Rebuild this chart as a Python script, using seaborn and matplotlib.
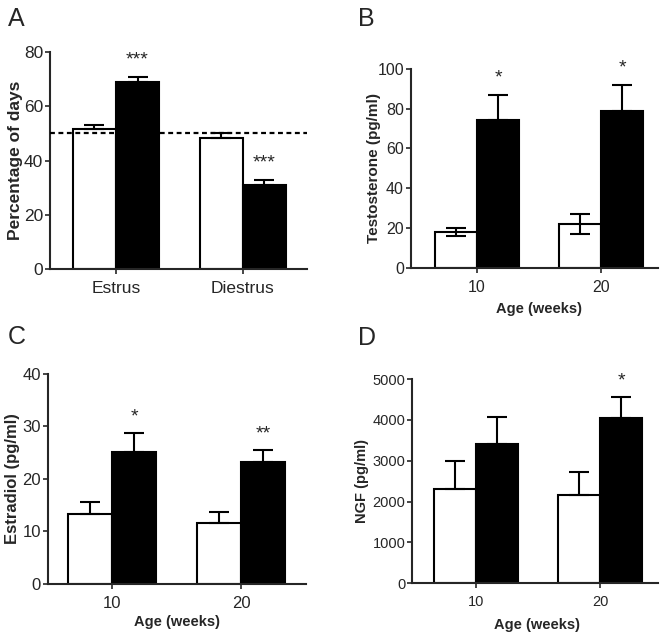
import numpy as np
import pandas as pd
import matplotlib.pyplot as plt
import seaborn as sns

# ---- data ----
groups = ['Control', 'Treated']

a_cats = ['Estrus', 'Diestrus']
a_ctrl = [51.5, 48.5]
a_ctrl_err = [1.5, 1.5]
a_trt = [69.0, 31.0]
a_trt_err = [2.0, 2.0]
a_stars = ['***', '***']

b_cats = ['10', '20']
b_ctrl = [18.0, 22.0]
b_ctrl_err = [2.2, 5.0]
b_trt = [74.0, 78.5]
b_trt_err = [13.0, 13.5]
b_stars = ['*', '*']

c_cats = ['10', '20']
c_ctrl = [13.4, 11.6]
c_ctrl_err = [2.2, 2.1]
c_trt = [25.1, 23.2]
c_trt_err = [3.6, 2.3]
c_stars = ['*', '**']

d_cats = ['10', '20']
d_ctrl = [2300, 2150]
d_ctrl_err = [700, 570]
d_trt = [3420, 4040]
d_trt_err = [650, 510]
d_stars = ['', '*']

sns.set_style('ticks')
plt.rcParams['font.family'] = ['Liberation Sans', 'DejaVu Sans']
NARROW = ['Liberation Sans Narrow', 'Liberation Sans', 'DejaVu Sans']


def make_df(cats, ctrl, ctrl_err, trt, trt_err, stars):
    rows = []
    for i, c in enumerate(cats):
        rows.append({'cat': c, 'group': groups[0], 'mean': ctrl[i], 'err': ctrl_err[i], 'star': ''})
        rows.append({'cat': c, 'group': groups[1], 'mean': trt[i], 'err': trt_err[i], 'star': stars[i]})
    return pd.DataFrame(rows)


def panel(ax, df, ymax, ystep, xlim, ylabel, ylab_x, xlabel=None, xlab_xy=None,
          tick_fs=12, lab_fs=12, two_sided_ctrl=False, star_fs=14):
    sns.barplot(data=df, x='cat', y='mean', hue='group', hue_order=groups,
                palette=['white', 'black'], edgecolor='black', linewidth=1.5,
                width=0.68, errorbar=None, legend=False, saturation=1, ax=ax, zorder=2)
    bars = sorted([p for p in ax.patches if p.get_height() > 0], key=lambda p: p.get_x())
    for p, (_, row) in zip(bars, df.iterrows()):
        x = p.get_x() + p.get_width() / 2
        lo = row['err'] if (two_sided_ctrl and row['group'] == groups[0]) else 0
        ax.errorbar(x, row['mean'], yerr=[[lo], [row['err']]], fmt='none', ecolor='black',
                    elinewidth=1.5, capsize=7, capthick=1.5, zorder=3)
        if row['star']:
            ax.annotate(row['star'], (x, row['mean'] + row['err']), xytext=(0, 8.5),
                        textcoords='offset points', ha='center', va='baseline',
                        fontsize=star_fs, annotation_clip=False)
    ax.set_ylim(0, ymax)
    ax.set_yticks(np.arange(0, ymax + 1, ystep))
    ax.set_xlim(*xlim)
    sns.despine(ax=ax)
    for s in ['left', 'bottom']:
        ax.spines[s].set_linewidth(1.5)
    ax.tick_params(axis='both', length=3.5, width=1.2, labelsize=tick_fs)
    ax.tick_params(axis='y', pad=1.5)
    ax.tick_params(axis='x', pad=5)
    for lab in ax.get_xticklabels() + ax.get_yticklabels():
        lab.set_family(NARROW)
    ax.set_ylabel(ylabel, fontsize=lab_fs, fontweight='bold')
    ax.yaxis.set_label_coords(ylab_x, 0.5)
    if xlabel:
        ax.set_xlabel(xlabel, fontsize=10.5, fontweight='bold')
        ax.xaxis.set_label_coords(*xlab_xy)
    else:
        ax.set_xlabel('')


fig = plt.figure(figsize=(6.67, 6.36), dpi=100)

ax_a = fig.add_axes([0.075, 0.577, 0.385, 0.341])
ax_b = fig.add_axes([0.616, 0.579, 0.371, 0.313])
ax_c = fig.add_axes([0.072, 0.082, 0.387, 0.330])
ax_d = fig.add_axes([0.618, 0.083, 0.369, 0.321])

panel(ax_a, make_df(a_cats, a_ctrl, a_ctrl_err, a_trt, a_trt_err, a_stars),
      80, 20, (-0.52, 1.504), 'Percentage of days', -0.105, tick_fs=12.5, lab_fs=12.5)
ax_a.axhline(50, color='black', lw=1.6, ls=(0, (2.2, 1.6)), zorder=4)

panel(ax_b, make_df(b_cats, b_ctrl, b_ctrl_err, b_trt, b_trt_err, b_stars),
      100, 20, (-0.532, 1.46), 'Testosterone (pg/ml)', -0.121,
      xlabel='Age (weeks)', xlab_xy=(0.518, -0.171), tick_fs=11.5, lab_fs=11,
      two_sided_ctrl=True)

panel(ax_c, make_df(c_cats, c_ctrl, c_ctrl_err, c_trt, c_trt_err, c_stars),
      40, 10, (-0.496, 1.504), 'Estradiol (pg/ml)', -0.109,
      xlabel='Age (weeks)', xlab_xy=(0.5, -0.148), tick_fs=12, lab_fs=12)

panel(ax_d, make_df(d_cats, d_ctrl, d_ctrl_err, d_trt, d_trt_err, d_stars),
      5000, 1000, (-0.516, 1.468), 'NGF (pg/ml)', -0.175,
      xlabel='Age (weeks)', xlab_xy=(0.508, -0.172), tick_fs=10.5, lab_fs=10.5)

for letter, (fx, fy) in zip('ABCD', [(0.012, 0.989), (0.537, 0.989), (0.012, 0.489), (0.537, 0.487)]):
    fig.text(fx, fy, letter, fontsize=18, ha='left', va='top')

fig.savefig('out.png', dpi=100)
